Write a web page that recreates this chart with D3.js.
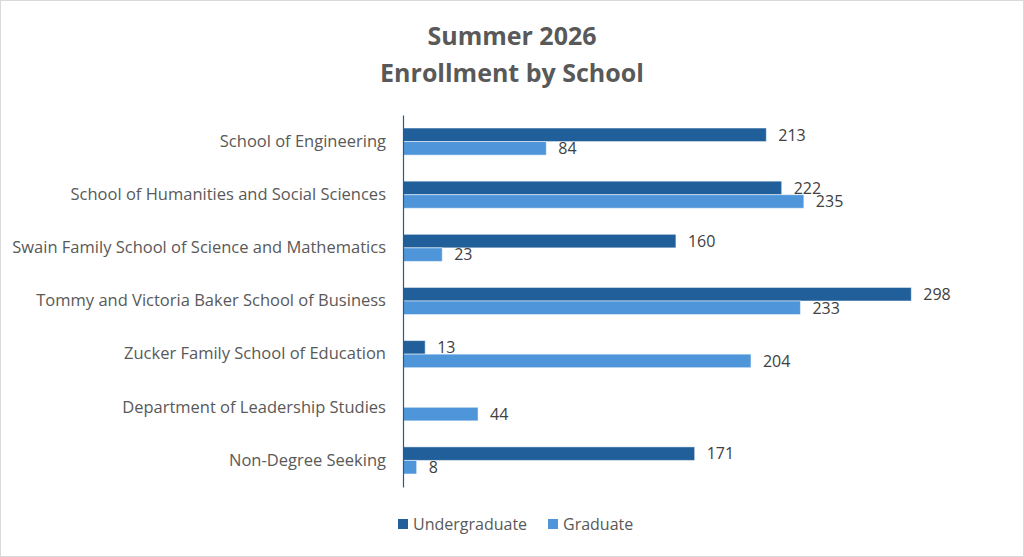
<!DOCTYPE html>
<html>
<head>
<meta charset="utf-8">
<script src="https://cdn.jsdelivr.net/npm/d3@7"></script>
<style>
  body { margin: 0; background: #fff; }
  svg { display: block; font-family: "Open Sans", "Liberation Sans", sans-serif; }
</style>
</head>
<body>
<div id="chart"></div>
<script>
const schools = [
  "School of Engineering",
  "School of Humanities and Social Sciences",
  "Swain Family School of Science and Mathematics",
  "Tommy and Victoria Baker School of Business",
  "Zucker Family School of Education",
  "Department of Leadership Studies",
  "Non-Degree Seeking"
];
const undergraduate = [213, 222, 160, 298, 13, null, 171];
const graduate = [84, 235, 23, 233, 204, 44, 8];
const seriesNames = ["Undergraduate", "Graduate"];
const seriesColors = ["#215f9a", "#4e95d9"];
const titleLines = ["Summer 2026", "Enrollment by School"];

const W = 1024, H = 557;
const margin = { top: 115, right: 24, bottom: 70, left: 403 };

const svg = d3.select("#chart").append("svg")
  .attr("width", W)
  .attr("height", H);

svg.append("rect")
  .attr("x", 0.5).attr("y", 0.5)
  .attr("width", W - 1).attr("height", H - 1)
  .attr("fill", "#fff")
  .attr("stroke", "#d9d9d9");

const y = d3.scaleBand()
  .domain(schools)
  .range([margin.top, H - margin.bottom])
  .paddingInner(0.49)
  .paddingOuter(0.245);

const sub = d3.scaleBand()
  .domain(seriesNames)
  .range([0, y.bandwidth()]);

const x = d3.scaleLinear()
  .domain([0, 350])
  .range([margin.left, W - margin.right]);

// title
svg.append("g").selectAll("text")
  .data(titleLines)
  .join("text")
  .attr("x", 512)
  .attr("y", (d, i) => 45 + i * 37)
  .attr("text-anchor", "middle")
  .attr("font-size", 25)
  .attr("font-weight", "bold")
  .attr("fill", "#595959")
  .text(d => d);

const rows = schools.map((s, i) => ({
  school: s,
  values: [undergraduate[i], graduate[i]]
}));

const groups = svg.append("g").selectAll("g")
  .data(rows)
  .join("g")
  .attr("transform", d => `translate(0,${y(d.school)})`);

const bars = groups.selectAll("g")
  .data(d => d.values.map((v, k) => ({ key: seriesNames[k], k, v })).filter(e => e.v != null))
  .join("g");

bars.append("rect")
  .attr("x", x(0))
  .attr("y", d => sub(d.key))
  .attr("width", d => x(d.v) - x(0))
  .attr("height", sub.bandwidth())
  .attr("fill", d => seriesColors[d.k])
  .attr("stroke", "#ffffff")
  .attr("stroke-opacity", 0.5)
  .attr("stroke-width", 1);

bars.append("text")
  .attr("x", d => x(d.v) + 12)
  .attr("y", d => sub(d.key) + sub.bandwidth() / 2)
  .attr("dy", "0.36em")
  .attr("font-size", 16)
  .attr("fill", "#404040")
  .text(d => d.v);

// y axis
const yAxis = svg.append("g")
  .attr("transform", `translate(${margin.left},0)`)
  .call(d3.axisLeft(y).tickSize(0).tickPadding(17));
yAxis.select(".domain").attr("stroke", "#1f5f8f").attr("stroke-width", 1.2);
yAxis.selectAll("text")
  .attr("font-size", 16.5)
  .attr("fill", "#595959")
  .attr("font-family", "\"Open Sans\", \"Liberation Sans\", sans-serif");

// legend
const legend = svg.append("g")
  .attr("transform", "translate(0,524)");
const legendX = [398, 548];
const li = legend.selectAll("g")
  .data(seriesNames)
  .join("g")
  .attr("transform", (d, i) => `translate(${legendX[i]},0)`);
li.append("rect")
  .attr("x", 0).attr("y", -5)
  .attr("width", 10).attr("height", 10)
  .attr("fill", (d, i) => seriesColors[i]);
li.append("text")
  .attr("x", 15)
  .attr("dy", "0.36em")
  .attr("font-size", 16)
  .attr("fill", "#595959")
  .text(d => d);
</script>
</body>
</html>
